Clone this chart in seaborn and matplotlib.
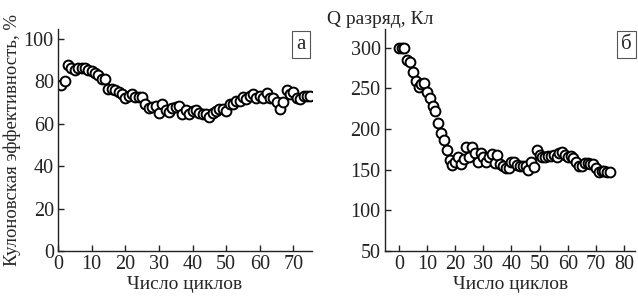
import numpy as np
import pandas as pd
import matplotlib
matplotlib.use("Agg")
import matplotlib.pyplot as plt
import seaborn as sns

cycles_a = list(range(1, 76))
efficiency = [78, 80, 87.5, 86, 85, 86, 86, 86, 85, 84.7, 84, 82.7, 81, 81,
              76.4, 76.4, 76, 74.8, 73.7, 72, 73, 74, 72.6, 72.6, 72.6, 69.3, 67.2,
              67.9, 68.2, 65, 69.3, 66.6, 65.4, 67.4, 68, 68.2, 64.3, 66.3, 64.6,
              65.8, 66.3, 65, 64.7, 64.3, 63, 65, 65.8, 67, 67, 66, 69, 69.4, 70.5,
              70.5, 72.6, 71.6, 73, 73.7, 71.8, 73, 71.8, 74.5, 71.8, 71.8, 70.2,
              67, 70.2, 76, 73.7, 74.8, 72, 71.6, 73, 73.2, 73.2]

cycles_b = list(range(0, 76))
discharge = [300, 300, 300, 285, 282, 270, 259, 252, 255, 257, 245, 238, 228, 222,
             208, 195, 186, 174, 162, 156, 160, 166, 157, 163, 178, 166, 178, 170,
             160, 170, 165, 159, 166, 169, 158, 168, 157, 155, 152, 152, 160, 160,
             156, 155, 155, 155, 150, 160, 153, 174, 168, 166, 166, 167, 167, 168,
             165, 170, 172, 168, 165, 167, 164, 160, 154, 155, 158, 158, 157, 157,
             152, 147, 148, 148, 147, 147]

df_a = pd.DataFrame({"cycle": cycles_a, "val": efficiency})
df_b = pd.DataFrame({"cycle": cycles_b, "val": discharge})

sns.set_style("ticks")
plt.rcParams["font.family"] = ["Liberation Serif", "DejaVu Serif"]
plt.rcParams["font.size"] = 14

fig = plt.figure(figsize=(6.38, 2.96), dpi=100)
ax1 = fig.add_axes([0.0909, 0.152, 0.398, 0.75])
ax2 = fig.add_axes([0.603, 0.152, 0.393, 0.75])

mk = dict(marker="o", s=50, facecolor="white", edgecolor="black", linewidth=1.4, legend=False)
sns.scatterplot(data=df_a, x="cycle", y="val", ax=ax1, **mk)
sns.scatterplot(data=df_b, x="cycle", y="val", ax=ax2, **mk)

ax1.set_xlim(0, 75.5)
ax1.set_ylim(0, 104.5)
ax1.set_xticks([0, 10, 20, 30, 40, 50, 60, 70])
ax1.set_yticks([0, 20, 40, 60, 80, 100])
ax1.set_xlabel("Число циклов", fontsize=14, labelpad=1)
ax1.set_ylabel("Кулоновская эффективность, %", fontsize=13.5, labelpad=2)

ax2.set_xlim(-5, 84)
ax2.set_ylim(50, 323)
ax2.set_xticks([0, 10, 20, 30, 40, 50, 60, 70, 80])
ax2.set_yticks([50, 100, 150, 200, 250, 300])
ax2.set_xlabel("Число циклов", fontsize=14, labelpad=1)
ax2.set_ylabel("")
fig.text(0.512, 0.935, "Q разряд, Кл", fontsize=14, ha="left", va="center")

for ax in (ax1, ax2):
    sns.despine(ax=ax)
    ax.tick_params(direction="in", length=4, width=1, labelsize=14.5, pad=3, colors="#222222")
    for sp in ("left", "bottom"):
        ax.spines[sp].set_linewidth(1.0)
        ax.spines[sp].set_color("#222222")

box = dict(boxstyle="square,pad=0.2", facecolor="white", edgecolor="#555555", linewidth=0.8)
ax1.text(0.975, 0.93, "а", transform=ax1.transAxes, ha="right", va="center", fontsize=15, bbox=box)
ax2.text(0.985, 0.93, "б", transform=ax2.transAxes, ha="right", va="center", fontsize=15, bbox=box)

fig.savefig("out.png", dpi=100)
